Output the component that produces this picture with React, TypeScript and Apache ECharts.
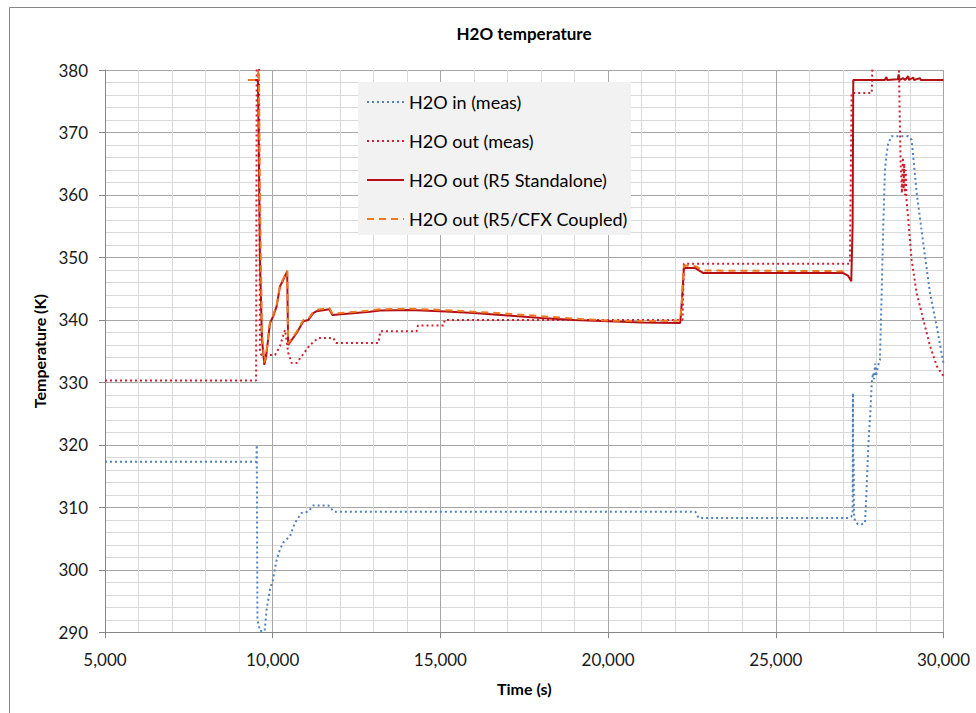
import React, { useEffect, useRef } from "react";
import * as echarts from "echarts";

// Time axis (s) and temperatures (K) for each trace
const inTime = [5000, 9515, 9525, 9535, 9545, 9620, 9760, 9820, 9920, 10000, 10120, 10220, 10320, 10520, 10660, 10860, 11060, 11210, 11660, 11830, 22600, 22700, 27160, 27250, 27290, 27300, 27310, 27320, 27330, 27360, 27450, 27560, 27660, 27700, 27760, 27820, 27860, 27900, 27930, 27960, 27990, 28040, 28105, 28157, 28204, 28254, 28300, 28354, 28455, 28950, 29050, 29201, 29397, 29597, 29796, 30000];
const inTemp = [317.3, 317.3, 320.0, 305.0, 292.0, 290.2, 290.2, 293.7, 296.9, 298.2, 301.7, 303.3, 304.4, 305.4, 307.5, 309.1, 309.3, 310.3, 310.3, 309.3, 309.3, 308.3, 308.3, 308.5, 309.0, 328.3, 312.0, 318.0, 309.0, 307.8, 307.3, 307.3, 307.5, 312.0, 320.0, 325.2, 329.9, 331.5, 330.5, 333.0, 331.0, 332.5, 333.6, 344.3, 355.0, 364.0, 366.5, 368.3, 369.4, 369.4, 368.8, 360.3, 352.3, 344.3, 339.0, 333.0];

const outTime = [5000, 9505, 9525, 9590, 9620, 9660, 10070, 10218, 10367, 10465, 10566, 10715, 10865, 11112, 11360, 11807, 11887, 13150, 13210, 14290, 14330, 15090, 15130, 22220, 22260, 27210, 27260, 27860, 27900, 28660, 28690, 28720, 28760, 28790, 28810, 28830, 28850, 28870, 28900, 28950, 29050, 29200, 29400, 29600, 29800, 30000];
const outTemp = [330.3, 330.3, 385.0, 385.0, 335.0, 334.4, 334.4, 335.8, 338.4, 334.7, 333.1, 333.1, 334.2, 336.0, 337.1, 337.1, 336.3, 336.3, 338.2, 338.2, 339.1, 339.1, 340.0, 340.0, 349.0, 349.0, 376.3, 376.3, 385.0, 385.0, 374.0, 365.6, 360.3, 366.0, 361.0, 365.0, 360.0, 364.0, 359.0, 356.0, 349.6, 344.3, 340.0, 335.8, 332.6, 331.0];

const r5Time = [9270, 9560, 9580, 9620, 9680, 9750, 9800, 9920, 10018, 10118, 10218, 10316, 10432, 10460, 10715, 10913, 11062, 11211, 11310, 11690, 11780, 12900, 13200, 14100, 15000, 16000, 17000, 18000, 19000, 20000, 21000, 22150, 22200, 22260, 22600, 22840, 27010, 27150, 27250, 27290, 27310, 28250, 28300, 28320, 28640, 28660, 28680, 28800, 28850, 28950, 28970, 29100, 29120, 29300, 29320, 30000];
const r5Temp = [378.4, 378.4, 370.0, 350.0, 337.0, 332.8, 334.0, 339.5, 340.6, 342.2, 345.4, 346.4, 347.8, 336.0, 337.9, 339.8, 340.0, 341.1, 341.4, 341.7, 340.8, 341.3, 341.5, 341.6, 341.4, 341.1, 340.7, 340.3, 340.0, 339.8, 339.6, 339.5, 343.0, 348.3, 348.3, 347.5, 347.5, 347.1, 346.2, 355.0, 378.4, 378.4, 378.9, 378.4, 378.5, 379.3, 378.4, 378.7, 378.4, 379.0, 378.4, 378.8, 378.4, 378.7, 378.4, 378.4];

const cfxTime = [9270, 9560, 9580, 9600, 9620, 9680, 9750, 9800, 9920, 10018, 10118, 10218, 10316, 10432, 10460, 10715, 10913, 11062, 11211, 11310, 11690, 11780, 12900, 13200, 14100, 15000, 16000, 17000, 18000, 19000, 20000, 21000, 22150, 22200, 22260, 22600, 22840, 27050, 27100];
const cfxTemp = [378.4, 378.4, 382.0, 382.0, 360.0, 338.0, 333.2, 334.3, 339.7, 340.8, 342.4, 345.5, 346.6, 347.9, 336.2, 338.1, 340.0, 340.2, 341.3, 341.6, 341.9, 341.0, 341.5, 341.7, 341.8, 341.6, 341.3, 341.0, 340.6, 340.2, 339.9, 339.8, 339.9, 343.0, 348.7, 348.6, 347.9, 347.8, 347.6];

const seriesNames = ["H2O in (meas)", "H2O out (meas)", "H2O out (R5 Standalone)", "H2O out (R5/CFX Coupled)"];

const zip = (t: number[], v: number[]) => t.map((x, i) => [x, v[i]]);

const FONT = "Lato, 'Noto Sans', sans-serif";

export default function App() {
  const ref = useRef<HTMLDivElement>(null);

  useEffect(() => {
    if (!ref.current) return;
    const chart = echarts.init(ref.current, undefined, { renderer: "svg" });

    const lineSeries = (name: string, data: number[][], color: string, type: any, width: number) => ({
      name,
      type: "line",
      data,
      symbol: "none",
      showSymbol: false,
      clip: true,
      lineStyle: { color, width, type, cap: "butt" },
      itemStyle: { color },
    });

    chart.setOption({
      animation: false,
      backgroundColor: "#ffffff",
      textStyle: { fontFamily: FONT },
      graphic: [
        {
          type: "rect",
          z: 0,
          silent: true,
          shape: { x: 9.5, y: 7.5, width: 1200, height: 1200 },
          style: { fill: "none", stroke: "#868686", lineWidth: 1 },
        },
        {
          type: "rect",
          z: 3,
          silent: true,
          shape: { x: 358, y: 82, width: 273, height: 153 },
          style: { fill: "#f2f2f2" },
        },
        {
          type: "text",
          z: 5,
          silent: true,
          x: 524,
          y: 33,
          style: {
            text: "H2O temperature",
            fontFamily: FONT,
            fontSize: 17,
            fontWeight: "bold",
            fill: "#000",
            textAlign: "center",
            textVerticalAlign: "middle",
          },
        },
      ],
      legend: {
        orient: "vertical",
        left: 366,
        top: 93,
        padding: 0,
        z: 5,
        itemWidth: 37,
        itemHeight: 14,
        itemGap: 21,
        data: seriesNames,
        itemStyle: { color: "transparent", borderColor: "transparent", borderWidth: 0, opacity: 0 },
        textStyle: { fontFamily: FONT, fontSize: 18, lineHeight: 18, color: "#000" },
      },
      grid: { left: 105, right: 32.5, top: 70, bottom: 80.7, containLabel: false },
      xAxis: {
        type: "value",
        min: 5000,
        max: 30000,
        interval: 5000,
        name: "Time (s)",
        nameLocation: "middle",
        nameGap: 48,
        nameTextStyle: { fontFamily: FONT, fontSize: 16, fontWeight: "bold", color: "#000" },
        axisLine: { show: true, lineStyle: { color: "#868686" } },
        axisTick: { show: true, length: 6, lineStyle: { color: "#868686" } },
        minorTick: { show: false, splitNumber: 5 },
        splitLine: { show: true, lineStyle: { color: "#a6a6a6" } },
        minorSplitLine: { show: true, lineStyle: { color: "#d9d9d9" } },
        axisLabel: {
          margin: 19,
          fontFamily: FONT,
          fontSize: 17,
          color: "#1a1a1a",
          formatter: (v: number) => v.toLocaleString("en-US"),
        },
      },
      yAxis: {
        type: "value",
        min: 290,
        max: 380,
        interval: 10,
        name: "Temperature (K)",
        nameLocation: "middle",
        nameRotate: 90,
        nameGap: 56,
        nameTextStyle: { fontFamily: FONT, fontSize: 16, fontWeight: "bold", color: "#000" },
        axisLine: { show: true, lineStyle: { color: "#868686" } },
        axisTick: { show: true, length: 6, lineStyle: { color: "#868686" } },
        minorTick: { show: false, splitNumber: 5 },
        splitLine: { show: true, lineStyle: { color: "#a6a6a6" } },
        minorSplitLine: { show: true, lineStyle: { color: "#d9d9d9" } },
        axisLabel: { margin: 17, fontFamily: FONT, fontSize: 17, color: "#1a1a1a" },
      },
      series: [
        lineSeries(seriesNames[0], zip(inTime, inTemp), "#4f81bd", [2, 3], 2),
        lineSeries(seriesNames[1], zip(outTime, outTemp), "#d02030", [2, 3], 2),
        lineSeries(seriesNames[2], zip(r5Time, r5Temp), "#b40f14", "solid", 2),
        lineSeries(seriesNames[3], zip(cfxTime, cfxTemp), "#f0781e", [7, 5], 2),
      ],
    });

    return () => chart.dispose();
  }, []);

  return (
    <div
      ref={ref}
      style={{ position: "absolute", left: 0, top: 0, width: 976, height: 713 }}
    />
  );
}
